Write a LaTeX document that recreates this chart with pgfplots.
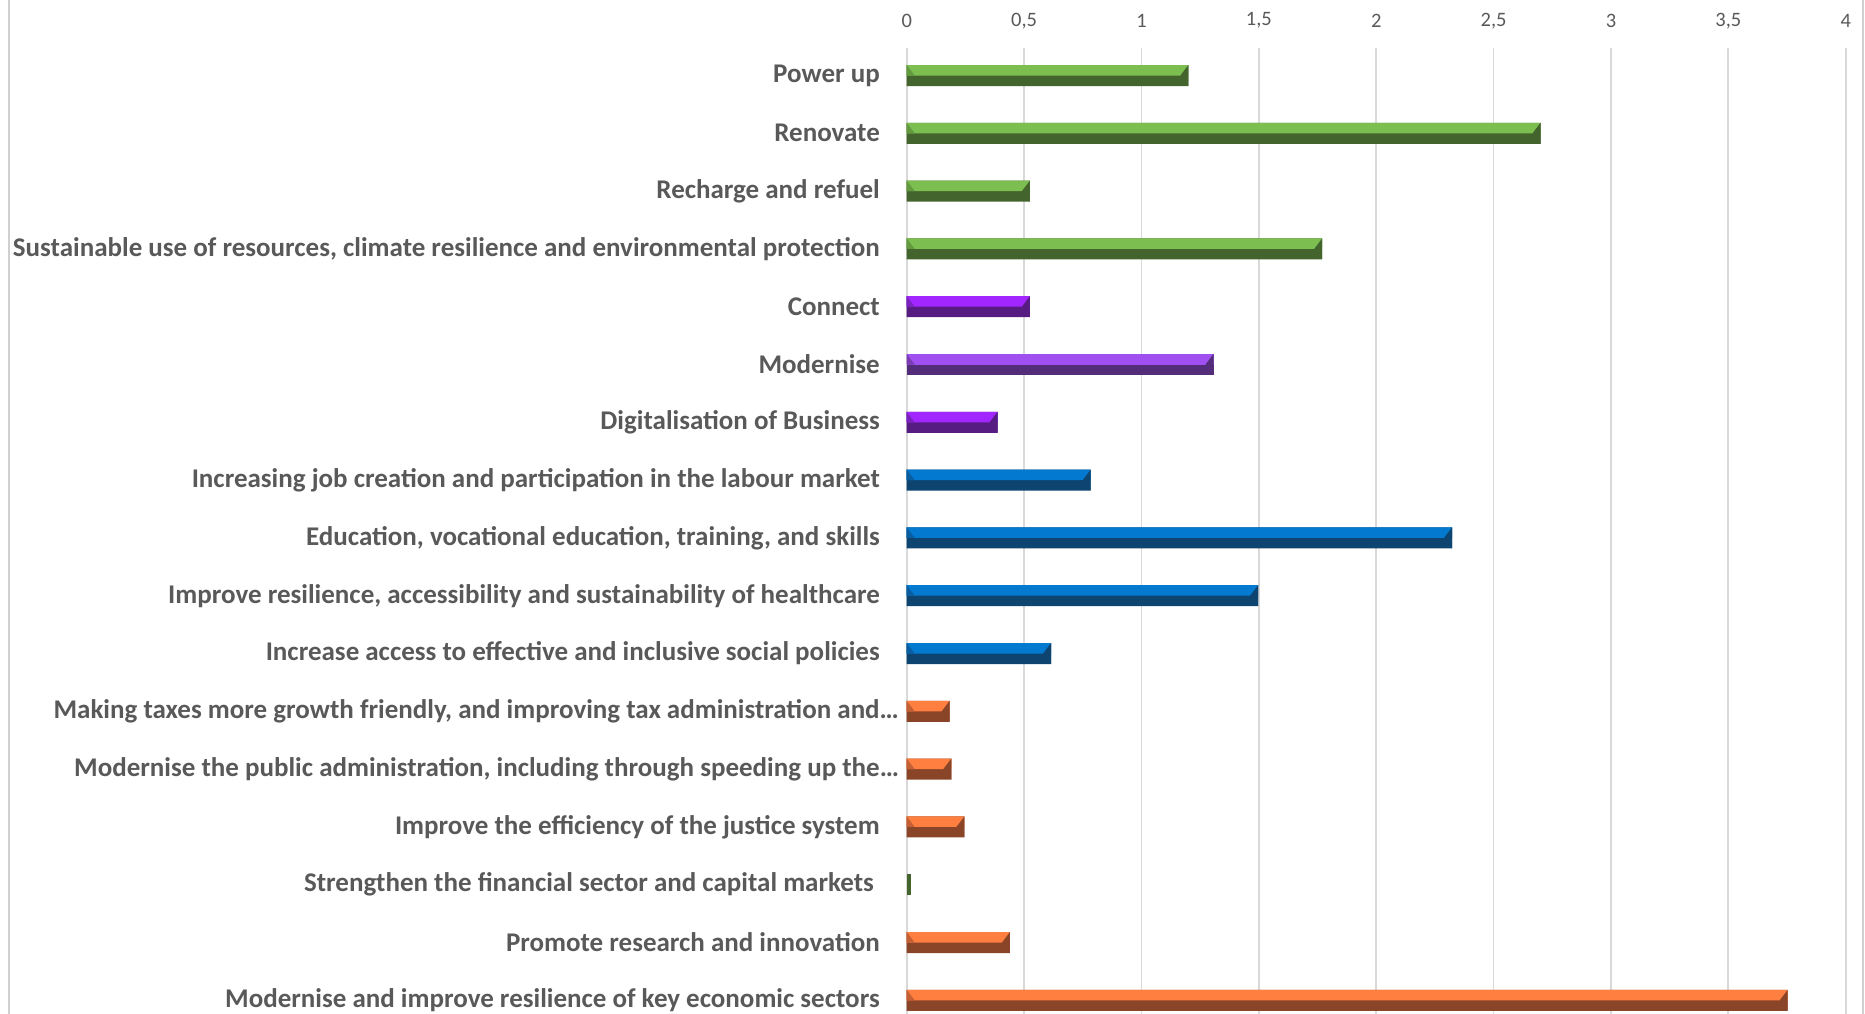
\documentclass[border=0pt]{standalone}
\usepackage{pgfplots}
\pgfplotsset{compat=1.18}
\usepackage{pgfplotstable}
\usepackage{fontspec}
\setmainfont{Carlito}
\definecolor{lab}{HTML}{595959}
\definecolor{gridc}{HTML}{D9D9D9}
\definecolor{bord}{HTML}{D0D0D0}
\definecolor{gL}{HTML}{7CBF50}\definecolor{gM}{HTML}{639A40}\definecolor{gD}{HTML}{43642D}
\definecolor{pL}{HTML}{A226FF}\definecolor{pM}{HTML}{7A22BE}\definecolor{pD}{HTML}{561C82}
\definecolor{qL}{HTML}{A050F0}\definecolor{qM}{HTML}{7A3CB5}\definecolor{qD}{HTML}{532D7A}
\definecolor{bL}{HTML}{0479D0}\definecolor{bM}{HTML}{085EA0}\definecolor{bD}{HTML}{0D4470}
\definecolor{oL}{HTML}{FF7F40}\definecolor{oM}{HTML}{C46034}\definecolor{oD}{HTML}{8A4428}

\pgfdeclareplotmark{lbev}{\pgfpathmoveto{\pgfqpoint{0pt}{10.5pt}}\pgfpathlineto{\pgfqpoint{8pt}{0pt}}\pgfpathlineto{\pgfqpoint{0pt}{0pt}}\pgfpathclose\pgfusepathqfill}
\pgfdeclareplotmark{rbev}{\pgfpathmoveto{\pgfqpoint{0pt}{10.5pt}}\pgfpathlineto{\pgfqpoint{-8pt}{0pt}}\pgfpathlineto{\pgfqpoint{0pt}{-10.5pt}}\pgfpathclose\pgfusepathqfill}

\pgfplotstableread{
idx v
0 1.20
1 2.70
2 0.525
3 1.77
}\tgreen
\pgfplotstableread{
idx v
14 0.02
}\tgreensmall
\pgfplotstableread{
idx v
4 0.525
6 0.387
}\tpurple
\pgfplotstableread{
idx v
5 1.307
}\tpurpleb
\pgfplotstableread{
idx v
7 0.784
8 2.323
9 1.497
10 0.615
}\tblue
\pgfplotstableread{
idx v
11 0.183
12 0.19
13 0.246
15 0.44
16 3.753
}\torange

\newcommand{\bevelbar}[4]{%
\addplot[xbar, bar width=21pt, bar shift=0pt, fill=#4, draw=none] table[x=v,y=idx]{#1};
\addplot[xbar, bar width=10.5pt, bar shift=5.25pt, fill=#2, draw=none] table[x=v,y=idx]{#1};
\addplot[only marks, mark=lbev, color=#3] table[x expr=0, y=idx]{#1};
\addplot[only marks, mark=rbev, color=#4] table[x=v, y=idx]{#1};
}

\begin{document}
\begin{tikzpicture}
\useasboundingbox (0,0) rectangle (1865pt,1014pt);
\begin{axis}[
  at={(906.7pt,0pt)}, anchor=south west,
  scale only axis, width=939pt, height=966.3pt,
  xmin=0, xmax=4, ymin=-0.481, ymax=16.237,
  y dir=reverse,
  axis line style={draw=none},
  major tick length=0pt,
  xtick={0,0.5,...,4},
  xticklabels={0,{0,5},1,{1,5},2,{2,5},3,{3,5},4},
  xticklabel pos=upper,
  xticklabel style={font=\fontsize{20.5}{24}\selectfont, text=lab, anchor=center, yshift=27pt},
  ytick={0,...,16},
  yticklabels={
    {Power up\hspace*{19pt}},
    {Renovate\hspace*{19pt}},
    {Recharge and refuel\hspace*{19pt}},
    {Sustainable use of resources, climate resilience and environmental protection\hspace*{19pt}},
    {Connect\hspace*{19pt}},
    {Modernise\hspace*{19pt}},
    {Digitalisation of Business\hspace*{19pt}},
    {Increasing job creation and participation in the labour market\hspace*{19pt}},
    {Education, vocational education, training, and skills\hspace*{19pt}},
    {Improve resilience, accessibility and sustainability of healthcare\hspace*{19pt}},
    {Increase access to effective and inclusive social policies\hspace*{19pt}},
    {Making taxes more growth friendly, and improving tax administration and…},
    {Modernise the public administration, including through speeding up the…},
    {Improve the efficiency of the justice system\hspace*{19pt}},
    {Strengthen the financial sector and capital markets\hspace*{25pt}},
    {Promote research and innovation\hspace*{19pt}},
    {Modernise and improve resilience of key economic sectors\hspace*{19pt}}},
  yticklabel style={font=\fontsize{27}{32}\selectfont\bfseries, text=lab, anchor=east, inner sep=0pt, xshift=-7.7pt},
  xmajorgrids,
  grid style={draw=gridc, line width=1.8pt},
  clip=false,
]
\bevelbar{\tgreen}{gL}{gM}{gD}
\bevelbar{\tpurple}{pL}{pM}{pD}
\bevelbar{\tpurpleb}{qL}{qM}{qD}
\bevelbar{\tblue}{bL}{bM}{bD}
\bevelbar{\torange}{oL}{oM}{oD}
\addplot[xbar, bar width=21pt, bar shift=0pt, fill=gD, draw=none] table[x=v,y=idx]{\tgreensmall};
\end{axis}
\draw[bord, line width=1.5pt] (9pt,0) -- (9pt,1014pt);
\draw[bord, line width=1.5pt] (1863pt,0) -- (1863pt,1014pt);
\end{tikzpicture}
\end{document}
